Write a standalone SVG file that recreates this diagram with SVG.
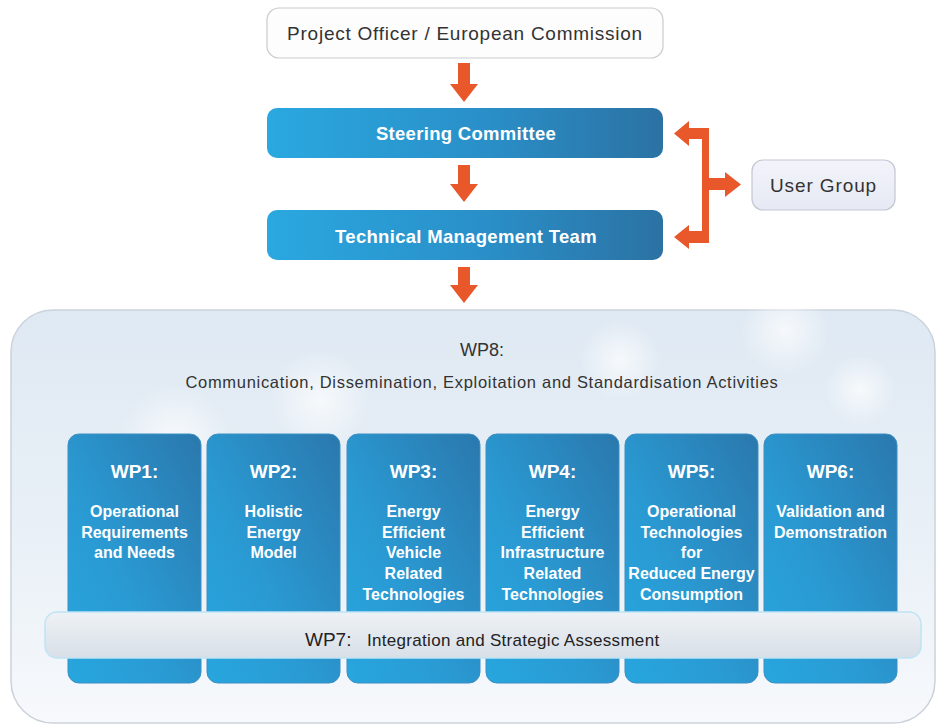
<svg xmlns="http://www.w3.org/2000/svg" width="941" height="727" viewBox="0 0 941 727">
<defs>
<linearGradient id="gBar" x1="0" y1="0" x2="1" y2="0">
<stop offset="0" stop-color="#2aa8e0"/>
<stop offset="0.55" stop-color="#2a8fc8"/>
<stop offset="1" stop-color="#2b72a3"/>
</linearGradient>
<linearGradient id="gWP" x1="1" y1="0" x2="0" y2="1">
<stop offset="0" stop-color="#2a78ad"/>
<stop offset="0.6" stop-color="#2a9ad3"/>
<stop offset="1" stop-color="#27a6de"/>
</linearGradient>
<linearGradient id="gCont" x1="0" y1="0" x2="0" y2="1">
<stop offset="0" stop-color="#dfe9f3"/>
<stop offset="0.6" stop-color="#eaf1f7"/>
<stop offset="1" stop-color="#f7f9fc"/>
</linearGradient>
<linearGradient id="gWP7" x1="0" y1="0" x2="0" y2="1">
<stop offset="0" stop-color="#eef2f6"/>
<stop offset="1" stop-color="#d8dfe7"/>
</linearGradient>
<linearGradient id="gUser" x1="0" y1="0" x2="0" y2="1">
<stop offset="0" stop-color="#f3f4fa"/>
<stop offset="1" stop-color="#e6e9f4"/>
</linearGradient>
<radialGradient id="gBokeh">
<stop offset="0" stop-color="#ffffff" stop-opacity="0.7"/>
<stop offset="1" stop-color="#ffffff" stop-opacity="0"/>
</radialGradient>
<style>
.arrow{fill:#e8582a}
.dark{font-family:"Liberation Sans",Arial,sans-serif;fill:#333333;text-anchor:middle}
.white{font-family:"Liberation Sans",Arial,sans-serif;fill:#ffffff;text-anchor:middle;font-weight:bold}
.wph{font-size:19px}
.wpb{font-size:16px}
.wpbox{fill:url(#gWP);stroke:#3d8fc2;stroke-width:1}
</style>
</defs>
<rect width="941" height="727" fill="#ffffff"/>

<g id="wp8">
<rect x="11" y="310" width="924" height="413" rx="42" ry="42" fill="url(#gCont)" stroke="#cbd2db" stroke-width="1.5"/>
<circle cx="785" cy="330" r="45" fill="url(#gBokeh)"/>
<circle cx="175" cy="440" r="55" fill="url(#gBokeh)"/>
<circle cx="860" cy="390" r="35" fill="url(#gBokeh)"/>
<circle cx="620" cy="360" r="40" fill="url(#gBokeh)"/>
<circle cx="320" cy="400" r="50" fill="url(#gBokeh)"/>
<text class="dark" x="482" y="356" font-size="18">WP8:</text>
<text class="dark" x="482" y="388" font-size="16.5" letter-spacing="0.7">Communication, Dissemination, Exploitation and Standardisation Activities</text>
</g>

<g id="wp1">
<rect class="wpbox" x="68" y="434" width="133" height="249" rx="11"/>
<text class="white wph" x="134.5" y="478">WP1:</text>
<text class="white wpb" x="134.5" y="517">Operational</text>
<text class="white wpb" x="134.5" y="538">Requirements</text>
<text class="white wpb" x="134.5" y="558">and Needs</text>
</g>
<g id="wp2">
<rect class="wpbox" x="207" y="434" width="133" height="249" rx="11"/>
<text class="white wph" x="273.5" y="478">WP2:</text>
<text class="white wpb" x="273.5" y="517">Holistic</text>
<text class="white wpb" x="273.5" y="538">Energy</text>
<text class="white wpb" x="273.5" y="558">Model</text>
</g>
<g id="wp3">
<rect class="wpbox" x="347" y="434" width="133" height="249" rx="11"/>
<text class="white wph" x="413.5" y="478">WP3:</text>
<text class="white wpb" x="413.5" y="517">Energy</text>
<text class="white wpb" x="413.5" y="538">Efficient</text>
<text class="white wpb" x="413.5" y="558">Vehicle</text>
<text class="white wpb" x="413.5" y="579">Related</text>
<text class="white wpb" x="413.5" y="600">Technologies</text>
</g>
<g id="wp4">
<rect class="wpbox" x="486" y="434" width="133" height="249" rx="11"/>
<text class="white wph" x="552.5" y="478">WP4:</text>
<text class="white wpb" x="552.5" y="517">Energy</text>
<text class="white wpb" x="552.5" y="538">Efficient</text>
<text class="white wpb" x="552.5" y="558">Infrastructure</text>
<text class="white wpb" x="552.5" y="579">Related</text>
<text class="white wpb" x="552.5" y="600">Technologies</text>
</g>
<g id="wp5">
<rect class="wpbox" x="625" y="434" width="133" height="249" rx="11"/>
<text class="white wph" x="691.5" y="478">WP5:</text>
<text class="white wpb" x="691.5" y="517">Operational</text>
<text class="white wpb" x="691.5" y="538">Technologies</text>
<text class="white wpb" x="691.5" y="558">for</text>
<text class="white wpb" x="691.5" y="579">Reduced Energy</text>
<text class="white wpb" x="691.5" y="600">Consumption</text>
</g>
<g id="wp6">
<rect class="wpbox" x="764" y="434" width="133" height="249" rx="11"/>
<text class="white wph" x="830.5" y="478">WP6:</text>
<text class="white wpb" x="830.5" y="517">Validation and</text>
<text class="white wpb" x="830.5" y="538">Demonstration</text>
</g>

<g id="wp7">
<rect x="45" y="612" width="876" height="46" rx="12" fill="url(#gWP7)" stroke="#bfe4f5" stroke-width="1.5"/>
<text x="305" y="646" font-family="Liberation Sans, Arial, sans-serif" fill="#222222"><tspan font-size="19">WP7:</tspan><tspan x="367" font-size="17" letter-spacing="0.3">Integration and Strategic Assessment</tspan></text>
</g>

<g id="project-officer">
<rect x="267" y="8" width="396" height="50" rx="12" fill="#fdfdfd" stroke="#c9cbd0" stroke-width="1.2"/>
<text class="dark" x="465" y="40" font-size="19" letter-spacing="0.75">Project Officer / European Commission</text>
</g>

<g id="steering">
<rect x="267" y="108" width="396" height="50" rx="10" fill="url(#gBar)"/>
<text class="white" x="466" y="140" font-size="18.5" letter-spacing="0.3">Steering Committee</text>
</g>

<g id="tmt">
<rect x="267" y="210" width="396" height="50" rx="10" fill="url(#gBar)"/>
<text class="white" x="466" y="243" font-size="18.5" letter-spacing="0.3">Technical Management Team</text>
</g>

<g id="user-group">
<rect x="752" y="160" width="143" height="50" rx="11" fill="url(#gUser)" stroke="#c3c7d3" stroke-width="1.2"/>
<text class="dark" x="823.5" y="192" font-size="19" letter-spacing="0.9">User Group</text>
</g>

<g id="connectors">
<polygon class="arrow" points="458,63 470,63 470,84 478,84 464,102 450,84 458,84"/>
<polygon class="arrow" points="458,165 470,165 470,184 478,184 464,202 450,184 458,184"/>
<polygon class="arrow" points="458,267 470,267 470,285 478,285 464,303 450,285 458,285"/>
<polygon class="arrow" points="709,128 709,178 725,178 725,172 741,184.5 725,197 725,190 709,190 709,243 689,243 689,249 674,237 689,225 689,231 702,231 702,139 689,139 689,146 674,133.5 689,121 689,128"/>
</g>
</svg>
